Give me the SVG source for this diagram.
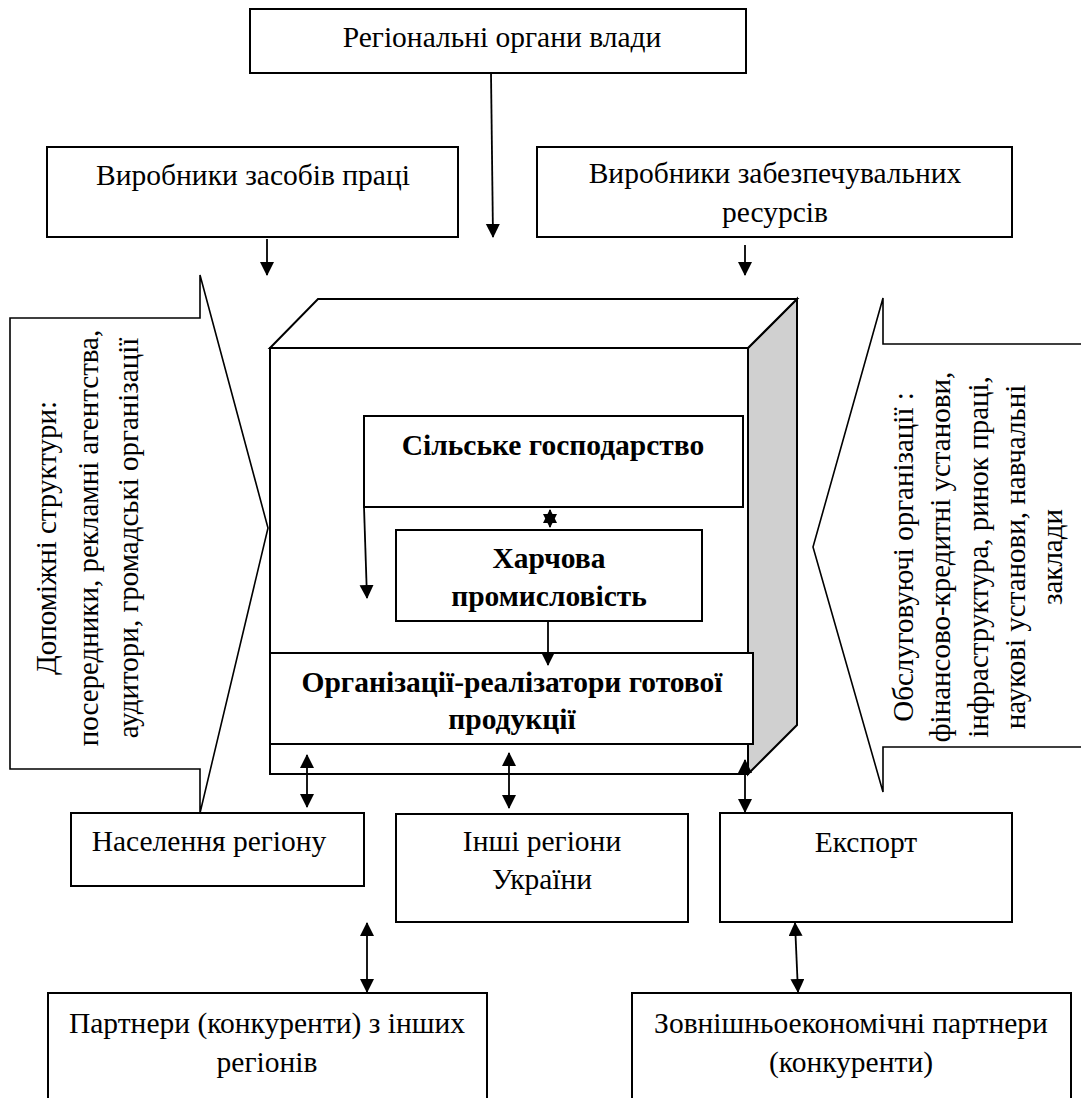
<svg xmlns="http://www.w3.org/2000/svg" width="1081" height="1098" viewBox="0 0 1081 1098">
<defs>
<marker id="ah" markerUnits="userSpaceOnUse" markerWidth="14" markerHeight="16" viewBox="0 0 14 16" refX="13" refY="7" orient="auto-start-reverse">
<path d="M0,0 L14,7 L0,14 z" fill="#000"/>
</marker>
<style>
.box{fill:#fff;stroke:#000;stroke-width:2}
.thin{fill:#fff;stroke:#000;stroke-width:1.6}
.t{font-family:"Liberation Serif","Times New Roman",serif;font-size:29.5px;fill:#000;text-anchor:middle}
.r{font-size:29px}
.b{font-weight:bold}
.c{stroke:#000;stroke-width:1.8;fill:none}
</style>
</defs>
<rect width="1081" height="1098" fill="#fff"/>

<g id="callout-left">
<polygon class="thin" points="10,318 200,318 200,275 268,528 200,813 200,769 10,769"/>
<text class="t r" transform="translate(56,538) rotate(-90)">Допоміжні структури:</text>
<text class="t r" transform="translate(98,538) rotate(-90)">посередники, рекламні агентства,</text>
<text class="t r" transform="translate(138,538) rotate(-90)">аудитори, громадські організації</text>
</g>

<g id="callout-right">
<polyline class="thin" points="1090,344 883,344 883,298 813,547 883,792 883,747 1090,747"/>
<text class="t r" transform="translate(913,557) rotate(-90)">Обслуговуючі організації :</text>
<text class="t r" transform="translate(950,557) rotate(-90)">фінансово-кредитні установи,</text>
<text class="t r" transform="translate(988,557) rotate(-90)">інфраструктура, ринок праці,</text>
<text class="t r" transform="translate(1025,557) rotate(-90)">наукові установи, навчальні</text>
<text class="t r" transform="translate(1062,557) rotate(-90)">заклади</text>
</g>

<g id="regional-authorities">
<rect class="box" x="250" y="9" width="496" height="64"/>
<text class="t" x="502" y="47">Регіональні органи влади</text>
</g>

<g id="means-producers">
<rect class="box" x="47" y="147" width="411" height="90"/>
<text class="t" x="253" y="185">Виробники засобів праці</text>
</g>

<g id="resource-producers">
<rect class="box" x="537" y="147" width="475" height="90"/>
<text class="t" x="775" y="183">Виробники забезпечувальних</text>
<text class="t" x="775" y="222">ресурсів</text>
</g>

<g id="cube">
<polygon points="748,348 797,299 797,725 748,774" fill="#d0d0d0" stroke="#000" stroke-width="2"/>
<polygon points="270,348 318,299 797,299 748,348" fill="#fff" stroke="#000" stroke-width="2"/>
<rect class="box" x="270" y="348" width="478" height="426"/>
</g>

<g id="agriculture">
<rect class="box" x="364" y="416" width="379" height="91"/>
<text class="t b" x="553" y="455">Сільське господарство</text>
</g>

<g id="food-industry">
<rect class="box" x="396" y="530" width="306" height="91"/>
<text class="t b" x="549" y="568">Харчова</text>
<text class="t b" x="549" y="606">промисловість</text>
</g>

<g id="sellers">
<rect class="box" x="270" y="653" width="483" height="91"/>
<text class="t b" x="512" y="692">Організації-реалізатори готової</text>
<text class="t b" x="512" y="729">продукції</text>
</g>

<g id="population">
<rect class="box" x="71" y="813" width="293" height="73"/>
<text class="t" x="209" y="851">Населення регіону</text>
</g>

<g id="other-regions">
<rect class="box" x="396" y="814" width="292" height="108"/>
<text class="t" x="542" y="851">Інші регіони</text>
<text class="t" x="542" y="889">України</text>
</g>

<g id="export">
<rect class="box" x="720" y="813" width="292" height="109"/>
<text class="t" x="866" y="852">Експорт</text>
</g>

<g id="partners-regions">
<rect class="box" x="48" y="993" width="439" height="115"/>
<text class="t" x="267" y="1033">Партнери (конкуренти) з інших</text>
<text class="t" x="267" y="1072">регіонів</text>
</g>

<g id="foreign-partners">
<rect class="box" x="632" y="993" width="439" height="115"/>
<text class="t" x="851" y="1033">Зовнішньоекономічні партнери</text>
<text class="t" x="851" y="1072">(конкуренти)</text>
</g>

<g id="connectors">
<line class="c" x1="491" y1="73" x2="493" y2="237" marker-end="url(#ah)"/>
<line class="c" x1="267" y1="239" x2="267" y2="275" marker-end="url(#ah)"/>
<line class="c" x1="745" y1="245" x2="745" y2="275" marker-end="url(#ah)"/>
<line class="c" x1="364" y1="507" x2="367" y2="598" marker-end="url(#ah)"/>
<line class="c" x1="548" y1="621" x2="548" y2="665" marker-end="url(#ah)"/>
<line class="c" x1="550" y1="510" x2="550" y2="527" marker-start="url(#ah)" marker-end="url(#ah)"/>
<line class="c" x1="307" y1="755" x2="307" y2="807" marker-start="url(#ah)" marker-end="url(#ah)"/>
<line class="c" x1="509" y1="753" x2="509" y2="808" marker-start="url(#ah)" marker-end="url(#ah)"/>
<line class="c" x1="745" y1="760" x2="745" y2="812" marker-start="url(#ah)" marker-end="url(#ah)"/>
<line class="c" x1="367" y1="923" x2="367" y2="992" marker-start="url(#ah)" marker-end="url(#ah)"/>
<line class="c" x1="795" y1="923" x2="798" y2="992" marker-start="url(#ah)" marker-end="url(#ah)"/>
</g>
</svg>
